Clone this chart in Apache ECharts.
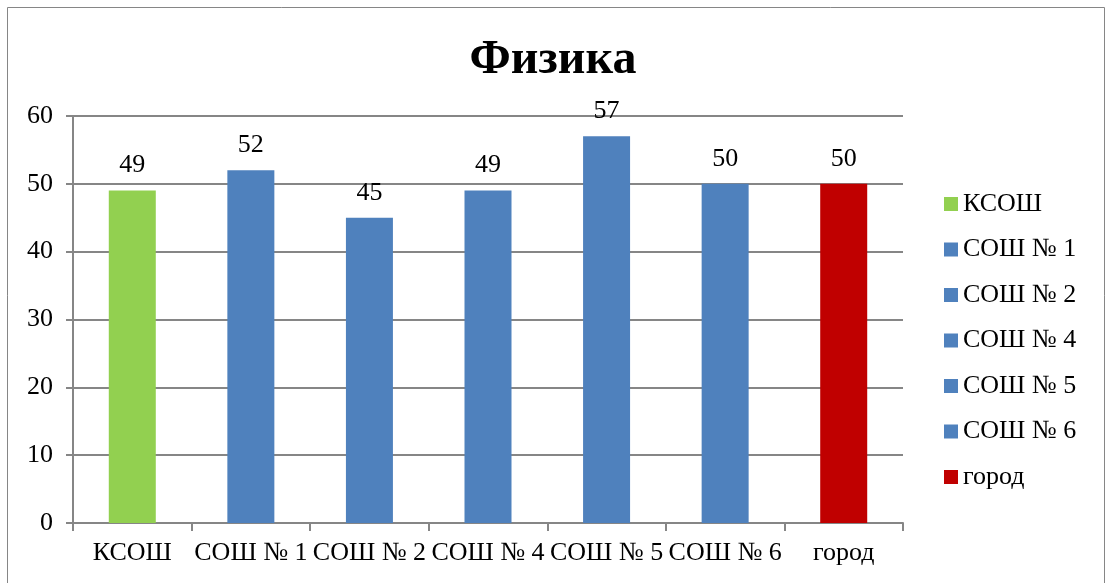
<!DOCTYPE html>
<html><head><meta charset="utf-8">
<script src="https://cdn.jsdelivr.net/npm/echarts@6/dist/echarts.min.js"></script>
<style>html,body{margin:0;padding:0;background:#fff}#c{width:1106px;height:583px}</style>
</head><body><div id="c"></div>
<script>
const categories = ['КСОШ', 'СОШ № 1', 'СОШ № 2', 'СОШ № 4', 'СОШ № 5', 'СОШ № 6', 'город'];
const values = [49, 52, 45, 49, 57, 50, 50];
const colors = ['#92D050', '#4F81BD', '#4F81BD', '#4F81BD', '#4F81BD', '#4F81BD', '#C00000'];
const yTicks = [0, 10, 20, 30, 40, 50, 60];

const font = '"Liberation Serif", "Times New Roman", serif';
const series = categories.map((name, i) => ({
  name: name,
  type: 'bar',
  stack: 'all',
  barWidth: 47,
  itemStyle: { color: colors[i] },
  label: { show: true, position: 'top', distance: 12, fontFamily: font, fontSize: 26, color: '#000' },
  data: categories.map((c, j) => j === i ? values[i] : null)
}));

const chart = echarts.init(document.getElementById('c'));
chart.setOption({
  animation: false,
  backgroundColor: '#fff',
  graphic: [{ type: 'rect', shape: { x: 7.5, y: 7.5, width: 1097, height: 580 }, style: { fill: 'none', stroke: '#868686', lineWidth: 1 } }],
  title: { text: 'Физика', left: 'center', top: 37, textStyle: { fontFamily: font, fontSize: 48, fontWeight: 'bold', color: '#000' }, padding: 0 },
  legend: {
    orient: 'vertical', left: 944, top: 191, padding: 0, itemWidth: 14, itemHeight: 14, itemGap: 19.5,
    icon: 'rect', textStyle: { fontFamily: font, fontSize: 26, color: '#000' },
    data: categories
  },
  grid: { left: 73, right: 203, top: 116, bottom: 60, containLabel: false },
  xAxis: {
    type: 'category', data: categories,
    axisLine: { lineStyle: { color: '#868686', width: 2 } },
    axisTick: { show: true, length: 8, lineStyle: { color: '#868686', width: 2 } },
    axisLabel: { interval: 0, fontFamily: font, fontSize: 26, color: '#000', margin: 17 }
  },
  yAxis: {
    type: 'value', min: yTicks[0], max: yTicks[yTicks.length - 1], interval: 10,
    axisLine: { show: true, lineStyle: { color: '#868686', width: 2 } },
    axisTick: { show: true, length: 7, lineStyle: { color: '#868686', width: 2 } },
    splitLine: { lineStyle: { color: '#868686', width: 2 } },
    axisLabel: { fontFamily: font, fontSize: 26, color: '#000', margin: 20 }
  },
  series: series
});
</script></body></html>
